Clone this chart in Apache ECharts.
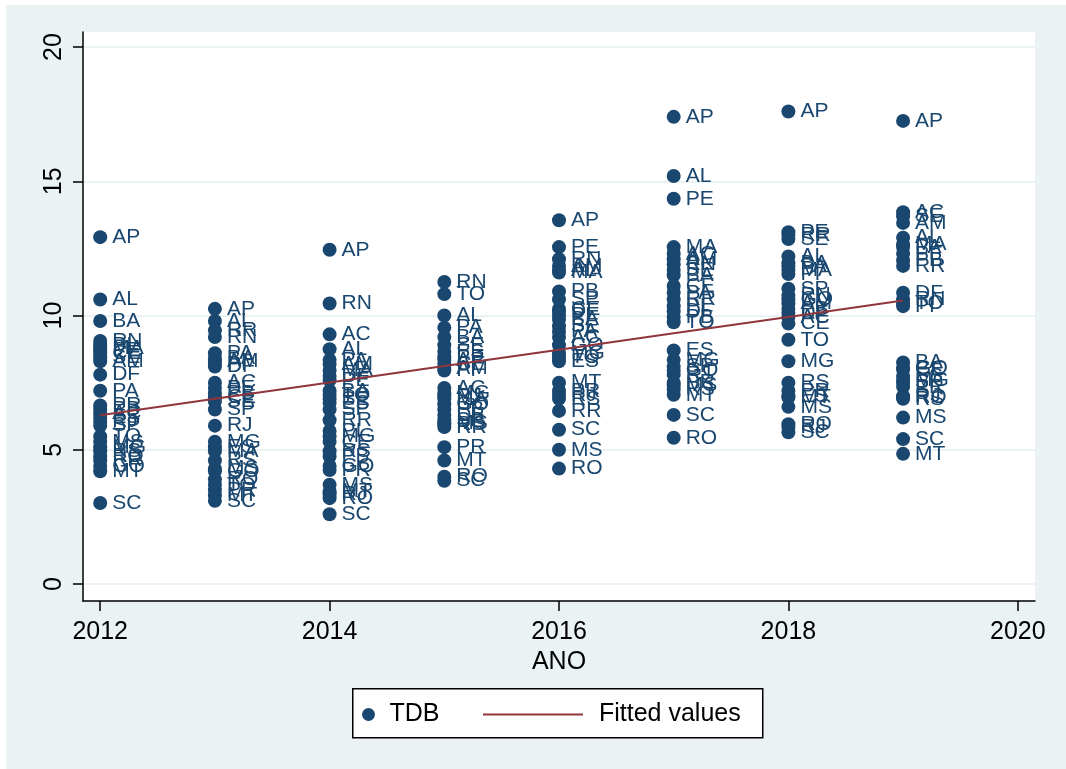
<!DOCTYPE html>
<html>
<head>
<meta charset="utf-8">
<script src="https://cdn.jsdelivr.net/npm/echarts@6/dist/echarts.min.js"></script>
<style>
html,body{margin:0;padding:0;background:#ffffff;width:1066px;height:769px;overflow:hidden;}
#chart{position:absolute;left:6px;top:5px;width:1060px;height:764px;background:#EAF2F3;}
</style>
</head>
<body>
<div id="chart"></div>
<script>
// ---- data ----
const states = ['AC','AL','AM','AP','BA','CE','DF','ES','GO','MA','MG','MS','MT','PA','PB','PE','PI','PR','RJ','RN','RO','RR','RS','SC','SE','SP','TO'];
const years = [2012, 2013, 2014, 2015, 2016, 2017, 2018, 2019];
const tdb2012 = [6.35,10.6,8.3,12.92,9.8,8.6,7.8,6.2,4.4,8.8,5.1,5.3,4.2,7.2,6.5,8.7,8.9,6.65,6.05,9.05,4.75,4.6,4.95,3.02,8.45,5.9,5.5];
const tdb2013 = [7.5,9.8,8.3,10.25,8.4,6.95,8.1,5.1,4.2,4.95,5.3,4.3,3.3,8.6,7.1,7.3,8.2,3.5,5.9,9.2,3.9,9.45,4.6,3.1,6.8,6.5,3.7];
const tdb2014 = [9.3,8.75,8.2,12.45,7.2,5.3,7.75,6.75,4.4,7.95,5.5,3.7,3.45,8.35,4.75,7.6,5.7,4.25,3.35,10.45,3.2,6.1,4.95,2.6,6.9,6.5,7.05];
const tdb2015 = [7.3,10.0,8.05,8.35,9.2,8.2,6.3,8.65,6.7,6.9,7.1,6.0,4.6,9.55,6.5,8.45,7.95,5.1,7.0,11.25,4.0,5.85,5.95,3.85,8.9,6.1,10.8];
const tdb2016 = [9.2,11.7,11.85,13.55,9.85,10.25,10.15,8.3,8.9,11.6,8.6,5.0,7.5,9.4,10.9,12.55,10.0,7.2,7.05,12.1,4.3,6.45,6.9,5.75,9.6,10.6,8.45];
const tdb2017 = [12.3,15.2,12.1,17.4,11.5,11.1,10.15,8.7,7.95,12.55,8.35,7.4,7.05,10.85,9.95,14.35,10.35,7.5,7.8,11.9,5.45,10.6,7.25,6.3,11.7,8.1,9.75];
const tdb2018 = [9.95,12.2,10.45,17.6,11.95,9.7,10.1,7.0,10.6,11.7,8.3,6.6,6.95,11.85,10.25,13.1,11.55,7.2,5.85,10.75,5.95,13.0,7.5,5.65,12.85,11.0,9.1];
const tdb2019 = [13.85,12.9,13.45,17.25,8.25,8.0,10.85,7.75,8.05,12.65,7.6,6.2,4.85,12.55,12.05,12.3,10.35,7.35,7.0,10.6,6.95,11.85,6.9,5.4,13.7,7.5,10.45];
const fittedValues = [6.29, 6.90, 7.51, 8.12, 8.73, 9.34, 9.95, 10.56];
const yTicks = [0, 5, 10, 15, 20];
const xTicks = [2012, 2014, 2016, 2018, 2020];

const tdbByYear = [tdb2012, tdb2013, tdb2014, tdb2015, tdb2016, tdb2017, tdb2018, tdb2019];
const scatterData = [];
years.forEach((yr, i) => {
  tdbByYear[i].forEach((v, j) => scatterData.push([yr, v, states[j]]));
});
const fitData = years.map((yr, i) => [yr, fittedValues[i]]);

const NAVY = '#1A476F';
const MAROON = '#90353B';
const FONT = '"Liberation Sans", Arial, sans-serif';

const chart = echarts.init(document.getElementById('chart'), null, {renderer: 'canvas'});
chart.setOption({
  backgroundColor: 'transparent',
  animation: false,
  textStyle: {fontFamily: FONT},
  grid: {left: 77, right: 31, top: 27, bottom: 168, show: true, backgroundColor: '#ffffff', borderWidth: 0},
  xAxis: {
    type: 'value', min: 2011.85, max: 2020.15,
    axisLine: {show: true, onZero: false, lineStyle: {color: '#000000', width: 1.5}},
    axisTick: {show: true, length: 10, customValues: xTicks, lineStyle: {color: '#000000', width: 1.5}},
    axisLabel: {customValues: xTicks, fontSize: 25, color: '#000000', margin: 19, fontFamily: FONT,
      formatter: v => String(Math.round(v))},
    splitLine: {show: false},
    name: 'ANO', nameLocation: 'middle', nameGap: 46,
    nameTextStyle: {fontSize: 25, color: '#000000', fontFamily: FONT}
  },
  yAxis: {
    type: 'value', min: -0.63, max: 20.56,
    axisLine: {show: true, onZero: false, lineStyle: {color: '#000000', width: 1.5}},
    axisTick: {show: true, length: 10, customValues: yTicks, lineStyle: {color: '#000000', width: 1.5}},
    axisLabel: {customValues: yTicks, rotate: 90, fontSize: 25, color: '#000000', margin: 16, fontFamily: FONT,
      formatter: v => String(Math.round(v))},
    splitLine: {show: true, lineStyle: {color: '#EAF2F3', width: 2}}
  },
  legend: [
    {
      data: [{name: 'TDB', icon: 'circle'}],
      left: 356, top: 697, padding: 0, itemWidth: 32, itemHeight: 13,
      textStyle: {fontSize: 25, color: '#000000', fontFamily: FONT}
    },
    {
      data: [{name: 'Fitted values', icon: 'rect'}],
      left: 477, top: 697, padding: 0, itemWidth: 100, itemHeight: 2,
      itemStyle: {color: MAROON},
      textStyle: {fontSize: 25, color: '#000000', fontFamily: FONT, padding: [0, 0, 0, 11]}
    }
  ],
  graphic: [{
    type: 'rect', left: 346, top: 683, z: 1,
    shape: {width: 410, height: 49},
    style: {fill: '#ffffff', stroke: '#000000', lineWidth: 1.5}
  }],
  series: [
    {
      name: 'TDB', type: 'scatter', data: scatterData,
      symbol: 'circle', symbolSize: 14,
      itemStyle: {color: NAVY, opacity: 1},
      label: {
        show: true, position: 'right', distance: 5,
        formatter: p => p.value[2],
        color: NAVY, fontSize: 21, fontFamily: FONT
      },
      z: 2
    },
    {
      name: 'Fitted values', type: 'line', data: fitData,
      symbol: 'none', showSymbol: false,
      lineStyle: {color: MAROON, width: 2},
      itemStyle: {color: MAROON},
      z: 5
    }
  ]
});
</script>
</body>
</html>
